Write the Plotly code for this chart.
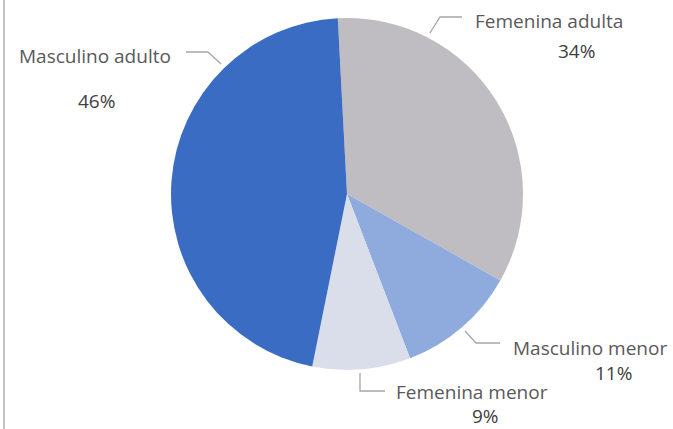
import plotly.graph_objects as go

categories = ["Femenina adulta", "Masculino menor", "Femenina menor", "Masculino adulto"]
values = [34, 11, 9, 46]
pct_labels = ["34%", "11%", "9%", "46%"]
colors = ["#BFBDC2", "#8FAADC", "#D9DEEA", "#3B6CC4"]

W, H = 673, 429

def px(x):
    return x / W

def py(y):
    return 1 - y / H

# label layout (pixel positions): name pos, pct pos, leader polyline
label_layout = {
    "Femenina adulta": dict(name=(549, 21), pct=(576, 51), line=[(430, 33), (440, 17), (462, 17)]),
    "Masculino menor": dict(name=(590, 348), pct=(613, 373), line=[(465, 331), (476, 343), (500, 343)]),
    "Femenina menor": dict(name=(472, 392), pct=(485, 416), line=[(360, 373), (360, 391), (385, 391)]),
    "Masculino adulto": dict(name=(95, 56), pct=(97, 101), line=[(221, 64), (208, 52), (186, 52)]),
}

fig = go.Figure()
fig.add_trace(go.Pie(
    labels=categories,
    values=values,
    sort=False,
    direction="clockwise",
    rotation=-3,
    marker=dict(colors=colors, line=dict(width=0)),
    textinfo="none",
    hoverinfo="label+percent",
    showlegend=False,
    domain=dict(x=[171 / W, 523 / W], y=[1 - 370 / H, 1 - 18 / H]),
))

annotations = []
shapes = []
font_family = "Open Sans, Noto Sans, sans-serif"
for cat, pct in zip(categories, pct_labels):
    lay = label_layout[cat]
    annotations.append(dict(
        x=px(lay["name"][0]), y=py(lay["name"][1]), xref="paper", yref="paper",
        text=cat, showarrow=False, xanchor="center", yanchor="middle", borderpad=0,
        font=dict(family=font_family, size=19, color="#595959"),
    ))
    annotations.append(dict(
        x=px(lay["pct"][0]), y=py(lay["pct"][1]), xref="paper", yref="paper",
        text=pct, showarrow=False, xanchor="center", yanchor="middle", borderpad=0,
        font=dict(family=font_family, size=19, color="#404040"),
    ))
    pts = lay["line"]
    path = "M " + " L ".join(f"{px(x):.5f},{py(y):.5f}" for x, y in pts)
    shapes.append(dict(type="path", path=path, xref="paper", yref="paper",
                       line=dict(color="#A6A6A6", width=1.3)))

# left border line
shapes.append(dict(type="line", x0=px(4), x1=px(4), y0=0, y1=1, xref="paper", yref="paper",
                   line=dict(color="#C4C4C4", width=2)))

fig.update_layout(
    width=W, height=H,
    margin=dict(l=0, r=0, t=0, b=0),
    paper_bgcolor="white",
    plot_bgcolor="white",
    annotations=annotations,
    shapes=shapes,
)

fig.write_html(
    "out.html",
    config={"displayModeBar": False},
    post_script="document.body.style.margin='0';document.body.style.padding='0';document.body.style.overflow='hidden';",
)
